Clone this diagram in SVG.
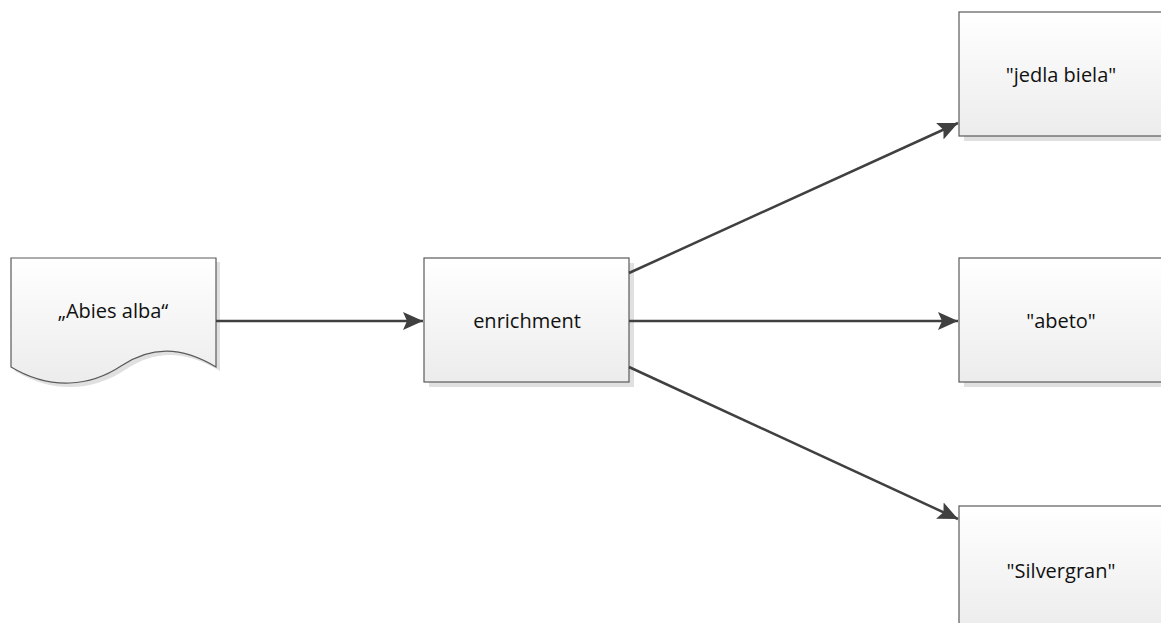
<svg xmlns="http://www.w3.org/2000/svg" width="1161" height="623" viewBox="0 0 1161 623">
<defs>
<linearGradient id="g" x1="0" y1="0" x2="0" y2="1">
<stop offset="0" stop-color="#ffffff"/>
<stop offset="1" stop-color="#ececec"/>
</linearGradient>
<marker id="arr" markerWidth="22" markerHeight="18" refX="20" refY="9" orient="auto" markerUnits="userSpaceOnUse">
<path d="M0,0 L20,9 L0,18 L4,9 Z" fill="#404040"/>
</marker>
<style>
.box{fill:url(#g);stroke:#5a5a5a;stroke-width:1.2}
.sh{fill:#e0e0e0}
.lbl{font-family:"Open Sans","Liberation Sans",sans-serif;font-size:20px;fill:#111111;text-anchor:middle;dominant-baseline:central}
.con{stroke:#404040;stroke-width:2.5;fill:none;marker-end:url(#arr)}
</style>
</defs>
<rect width="1161" height="623" fill="#ffffff"/>
<g id="abies">
<path class="sh" d="M15,262 L220,262 L220,371 C185,350 155,350 125,370 C95,390 55,395 15,371 Z"/>
<path class="box" d="M11,258 L216,258 L216,367 C181,346 151,346 121,366 C91,386 51,391 11,367 Z"/>
<text class="lbl" x="113" y="310">„Abies alba“</text>
</g>
<g id="enrichment">
<rect class="sh" x="429" y="263" width="205" height="124"/>
<rect class="box" x="424" y="258" width="205" height="124"/>
<text class="lbl" x="527" y="320">enrichment</text>
</g>
<g id="jedla">
<rect class="sh" x="964" y="17" width="205" height="124"/>
<rect class="box" x="959" y="12" width="205" height="124"/>
<text class="lbl" x="1061" y="74">"jedla biela"</text>
</g>
<g id="abeto">
<rect class="sh" x="964" y="263" width="205" height="124"/>
<rect class="box" x="959" y="258" width="205" height="124"/>
<text class="lbl" x="1061" y="320">"abeto"</text>
</g>
<g id="silvergran">
<rect class="sh" x="964" y="511" width="205" height="124"/>
<rect class="box" x="959" y="506" width="205" height="124"/>
<text class="lbl" x="1061" y="570">"Silvergran"</text>
</g>
<g id="connectors">
<line class="con" x1="216" y1="321" x2="423" y2="321"/>
<line class="con" x1="629" y1="321" x2="958" y2="321"/>
<line class="con" x1="629" y1="273" x2="958" y2="123"/>
<line class="con" x1="629" y1="367" x2="958" y2="519"/>
</g>
</svg>
